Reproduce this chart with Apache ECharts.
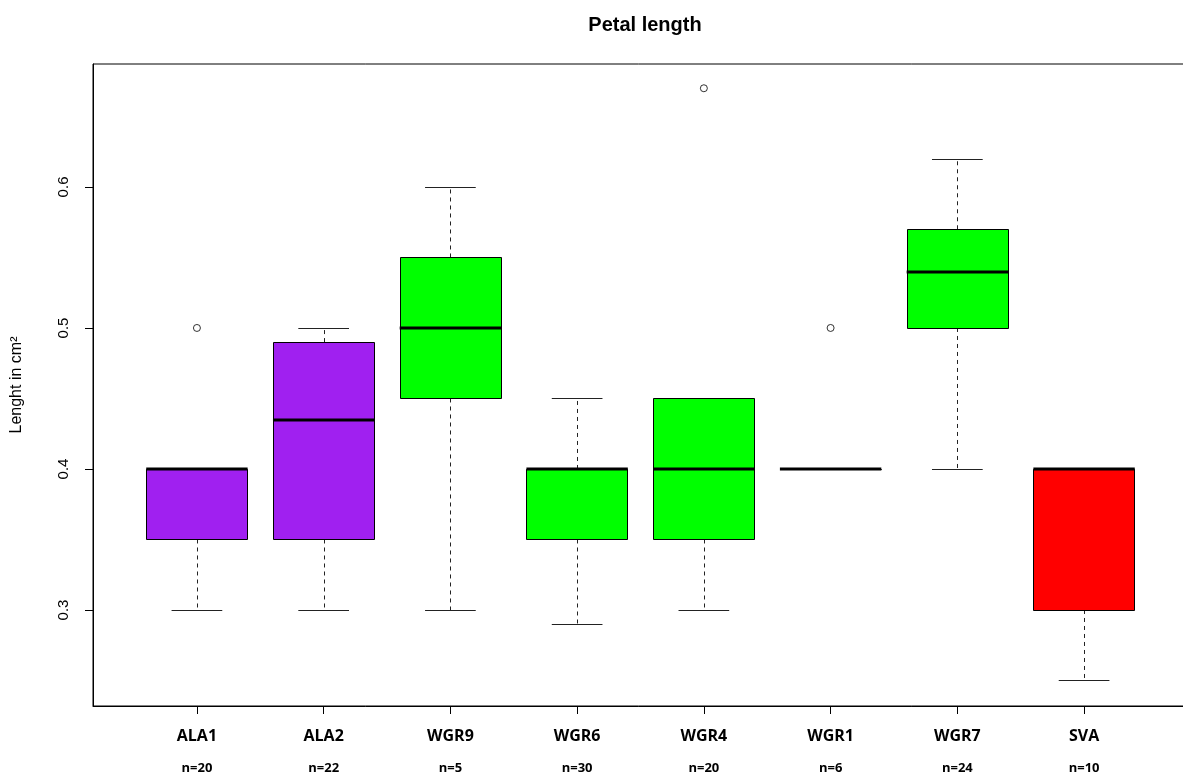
<!DOCTYPE html>
<html>
<head>
<meta charset="utf-8">
<script src="https://cdn.jsdelivr.net/npm/echarts@6/dist/echarts.min.js"></script>
<style>
html,body{margin:0;padding:0;background:#fff;}
#chart{width:1183px;height:776px;}
</style>
</head>
<body>
<div id="chart"></div>
<script>
// ---- data ----
const categories = ['ALA1','ALA2','WGR9','WGR6','WGR4','WGR1','WGR7','SVA'];
const counts = [20, 22, 5, 30, 20, 6, 24, 10];
const groups = ['ALA','ALA','WGR','WGR','WGR','WGR','WGR','SVA'];
const lowWhisker  = [0.30, 0.30, 0.30, 0.29, 0.30, 0.40, 0.40, 0.25];
const q1          = [0.35, 0.35, 0.45, 0.35, 0.35, 0.40, 0.50, 0.30];
const median      = [0.40, 0.435, 0.50, 0.40, 0.40, 0.40, 0.54, 0.40];
const q3          = [0.40, 0.49, 0.55, 0.40, 0.45, 0.40, 0.57, 0.40];
const highWhisker = [0.40, 0.50, 0.60, 0.45, 0.45, 0.40, 0.62, 0.40];
const outlierCategory = ['ALA1', 'WGR4', 'WGR1'];
const outlierValue    = [0.50, 0.67, 0.50];
const yTicks = [0.3, 0.4, 0.5, 0.6];

// ---- styles ----
const groupColor = {ALA: '#A020F0', WGR: '#00FF00', SVA: '#FF0000'};

const boxData = categories.map((c, i) => [i + 1, lowWhisker[i], q1[i], median[i], q3[i], highWhisker[i]]);
const outlierData = outlierCategory.map((c, i) => [categories.indexOf(c) + 1, outlierValue[i]]);
const xPositions = categories.map((c, i) => i + 1);

function crisp(v) { return Math.round(v) + 0.5; }

function renderBox(params, api) {
  const x = api.value(0);
  const lw = api.value(1), lq = api.value(2), md = api.value(3), uq = api.value(4), hw = api.value(5);
  const bw = api.size([0.8, 0])[0];
  const cx = api.coord([x, md])[0];
  const Y = v => api.coord([x, v])[1];
  const fill = groupColor[groups[params.dataIndex]];
  const children = [];
  const dash = {stroke: '#222', lineWidth: 1, lineDash: [4, 4]};
  const solid = {stroke: '#222', lineWidth: 1};
  const xc = crisp(cx);
  if (hw !== uq) children.push({type: 'line', shape: {x1: xc, y1: Y(uq), x2: xc, y2: Y(hw)}, style: dash});
  if (lw !== lq) children.push({type: 'line', shape: {x1: xc, y1: Y(lq), x2: xc, y2: Y(lw)}, style: dash});
  children.push({type: 'line', shape: {x1: cx - bw / 4, y1: crisp(Y(hw)), x2: cx + bw / 4, y2: crisp(Y(hw))}, style: solid});
  children.push({type: 'line', shape: {x1: cx - bw / 4, y1: crisp(Y(lw)), x2: cx + bw / 4, y2: crisp(Y(lw))}, style: solid});
  const top = crisp(Y(uq)), bot = crisp(Y(lq));
  children.push({type: 'rect', shape: {x: crisp(cx - bw / 2), y: top, width: Math.round(bw), height: bot - top},
    style: {fill: fill, stroke: '#000', lineWidth: 1}});
  children.push({type: 'line', shape: {x1: cx - bw / 2, y1: Math.round(Y(md)), x2: cx + bw / 2, y2: Math.round(Y(md))},
    style: {stroke: '#000', lineWidth: 3}});
  return {type: 'group', children: children};
}

const chart = echarts.init(document.getElementById('chart'), null, {renderer: 'canvas'});
chart.setOption({
  animation: false,
  backgroundColor: '#fff',
  title: {
    text: 'Petal length', left: 640, textAlign: 'center', top: 10,
    textStyle: {fontFamily: 'Liberation Sans', fontWeight: 'bold', fontSize: 20, color: '#000'}
  },
  grid: {left: 93, right: -5, top: 64, bottom: 70, show: true, borderColor: '#000', borderWidth: 1,
    containLabel: false, outerBoundsMode: 'none'},
  xAxis: {
    type: 'value', min: 0.18, max: 8.82,
    splitLine: {show: false},
    axisLine: {show: true, lineStyle: {color: '#000', width: 1}},
    axisTick: {show: true, customValues: xPositions, length: 8, lineStyle: {color: '#000'}},
    axisLabel: {
      show: true, customValues: xPositions, margin: 8,
      formatter: v => '{a|' + categories[Math.round(v) - 1] + '}\n{b|n=' + counts[Math.round(v) - 1] + '}',
      rich: {
        a: {fontFamily: 'Open Sans', fontWeight: 'bold', fontSize: 16, color: '#000', lineHeight: 44},
        b: {fontFamily: 'Open Sans', fontWeight: 'bold', fontSize: 13, color: '#000', lineHeight: 20}
      }
    }
  },
  yAxis: {
    type: 'value', min: 0.2319, max: 0.6872,
    name: 'Lenght in cm²', nameLocation: 'middle', nameGap: 68, nameRotate: 90,
    nameTextStyle: {fontFamily: 'Liberation Sans', fontSize: 16, color: '#000'},
    splitLine: {show: false},
    axisLine: {show: true, lineStyle: {color: '#000', width: 1}},
    axisTick: {show: true, customValues: yTicks, length: 8, lineStyle: {color: '#000'}},
    axisLabel: {show: true, customValues: yTicks, rotate: 90, margin: 22,
      formatter: v => v.toFixed(1),
      fontFamily: 'Liberation Sans', fontSize: 15, color: '#000'}
  },
  series: [
    {type: 'custom', renderItem: renderBox, data: boxData, encode: {x: 0, y: [1, 2, 3, 4, 5]}, z: 2},
    {type: 'scatter', data: outlierData, symbol: 'circle', symbolSize: 7,
      itemStyle: {color: '#fff', borderColor: '#000', borderWidth: 1}, z: 3}
  ]
});
</script>
</body>
</html>
